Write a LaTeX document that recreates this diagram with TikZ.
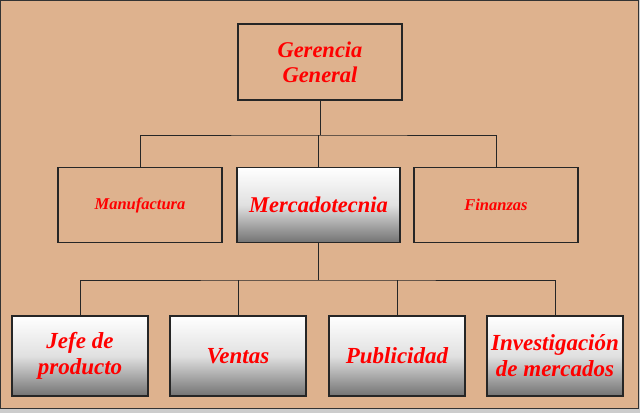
\documentclass[tikz,border=0pt]{standalone}
\usepackage{fontspec}
\setmainfont{Liberation Serif}
\begin{document}
\begin{tikzpicture}[x=1pt,y=-1pt,
  box/.style={draw=black!85,line width=1.2pt,align=center,inner sep=0pt,font=\bfseries\itshape\color{red}},
  grad/.style={box,top color=white,bottom color=black!55,middle color=black!12},
  line/.style={draw=black!85,line width=0.8pt}]
\fill[black!20] (0,0) rectangle (640,413);
\fill[draw=black!80,line width=1pt,fill={rgb,255:red,222;green,178;blue,142}] (0.5,0.5) rectangle (638,408);
\useasboundingbox (0,0) rectangle (640,413);
\node[box,fill={rgb,255:red,222;green,178;blue,142},minimum width=164pt,minimum height=76pt,font=\bfseries\itshape\color{red}\fontsize{22.5}{25}\selectfont] (gg) at (320,62) {Gerencia\\General};
\node[box,fill={rgb,255:red,222;green,178;blue,142},minimum width=164pt,minimum height=75pt,font=\bfseries\itshape\color{red}\fontsize{16.5}{18}\selectfont] (man) at (140,205) {Manufactura};
\node[grad,minimum width=163pt,minimum height=75pt,font=\bfseries\itshape\color{red}\fontsize{22.5}{25}\selectfont] (mer) at (318.5,205) {Mercadotecnia};
\node[box,fill={rgb,255:red,222;green,178;blue,142},minimum width=164pt,minimum height=75pt,font=\bfseries\itshape\color{red}\fontsize{16.5}{18}\selectfont] (fin) at (496,205) {Finanzas};
\tikzset{bot/.style={grad,minimum width=136pt,minimum height=80pt,font=\bfseries\itshape\color{red}\fontsize{23}{26}\selectfont}}
\node[bot] (jefe) at (80,356) {Jefe de\\producto};
\node[bot] (ven) at (238,356) {Ventas};
\node[bot] (pub) at (397,356) {Publicidad};
\node[bot] (inv) at (555,356) {Investigación\\de mercados};
\coordinate (j1) at (320,135);
\draw[line] (gg.south) -- (j1);
\draw[line] (man.north) |- (j1) -| (fin.north);
\draw[line] (mer.north) -- (mer.north |- j1);
\coordinate (j2) at (318.5,280);
\draw[line] (mer.south) -- (j2);
\draw[line] (jefe.north) |- (j2) -| (inv.north);
\draw[line] (ven.north) -- (ven.north |- j2);
\draw[line] (pub.north) -- (pub.north |- j2);
\end{tikzpicture}
\end{document}
